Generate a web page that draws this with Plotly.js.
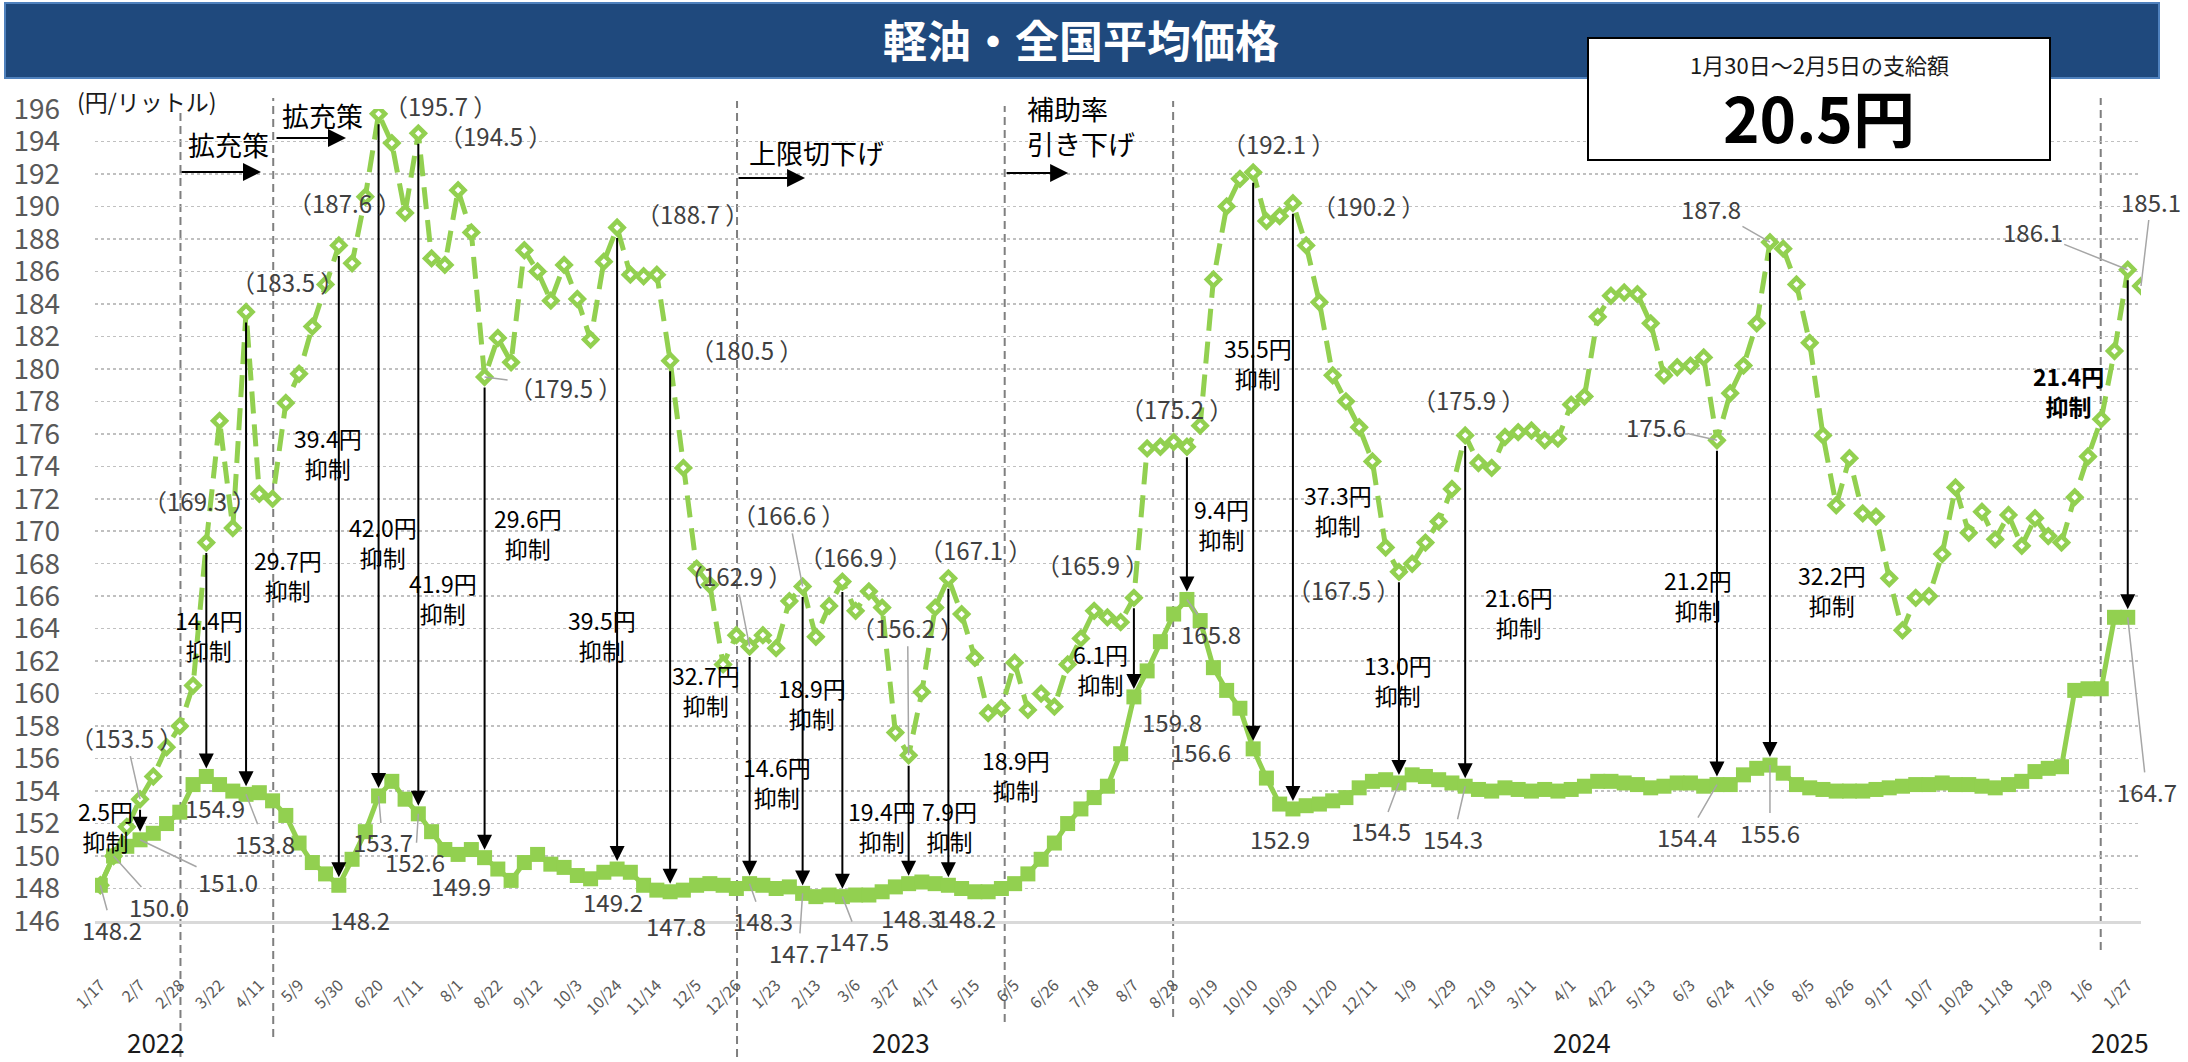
<!DOCTYPE html>
<html>
<head>
<meta charset="utf-8">
<script src="https://cdn.plot.ly/plotly-3.0.1.min.js"></script>
<style>
html, body { margin: 0; padding: 0; background: #fff; }
#chart { width: 2188px; height: 1062px; }
</style>
</head>
<body>
<div id="chart"></div>
<script>
// weekly survey points, x = survey number (0 = 2022/1/17)
var tickLabels = ['1/17','2/7','2/28','3/22','4/11','5/9','5/30','6/20','7/11','8/1','8/22','9/12',
  '10/3','10/24','11/14','12/5','12/26','1/23','2/13','3/6','3/27','4/17','5/15','6/5','6/26',
  '7/18','8/7','8/28','9/19','10/10','10/30','11/20','12/11','1/9','1/29','2/19','3/11','4/1',
  '4/22','5/13','6/3','6/24','7/16','8/5','8/26','9/17','10/7','10/28','11/18','12/9','1/6','1/27'];
var tickPos = tickLabels.map(function (t, k) { return k * 3; });

var years = ['2022', '2023', '2024', '2025'];
var yearPos = [4.2, 60.4, 111.8, 152.4];

// price without subsidy (diamonds)
var noSubsidy = [
  148.2, 150.0, 151.8, 153.5, 154.9, 156.7, 158.0, 160.5, 169.3, 176.8,
  170.2, 183.5, 172.3, 172.0, 177.9, 179.7, 182.6, 185.2, 187.6, 186.5,
  190.6, 195.7, 193.9, 189.6, 194.5, 186.8, 186.4, 191.0, 188.4, 179.5,
  181.9, 180.4, 187.3, 186.0, 184.2, 186.4, 184.3, 181.8, 186.6, 188.7,
  185.8, 185.7, 185.8, 180.5, 173.9, 167.7, 166.7, 161.8, 163.6, 162.9,
  163.6, 162.8, 165.7, 166.6, 163.5, 165.4, 166.9, 165.1, 166.3, 165.3,
  157.6, 156.2, 160.1, 165.3, 167.1, 164.9, 162.2, 158.8, 159.1, 161.9,
  159.0, 160.0, 159.2, 161.8, 163.4, 165.1, 164.7, 164.4, 165.9, 175.1,
  175.2, 175.5, 175.2, 176.5, 185.5, 190.0, 191.7, 192.1, 189.1, 189.4,
  190.2, 187.6, 184.1, 179.6, 178.0, 176.4, 174.3, 169.0, 167.5, 168.0,
  169.3, 170.6, 172.6, 175.9, 174.2, 173.9, 175.8, 176.1, 176.2, 175.6,
  175.7, 177.8, 178.3, 183.2, 184.5, 184.7, 184.6, 182.8, 179.6, 180.1,
  180.2, 180.7, 175.6, 178.5, 180.2, 182.8, 187.8, 187.4, 185.2, 181.6,
  175.9, 171.6, 174.5, 171.1, 170.9, 167.1, 163.9, 165.9, 166.0, 168.6,
  172.7, 169.9, 171.2, 169.5, 171.0, 169.1, 170.8, 169.7, 169.3, 172.1,
  174.6, 176.9, 181.1, 186.1, 185.1
];

// national average price (squares)
var actual = [
  148.2, 150.0, 150.6, 151.0, 151.4, 152.0, 152.7, 154.4, 154.9, 154.4,
  154.0, 153.8, 153.9, 153.4, 152.5, 150.8, 149.6, 148.9, 148.2, 149.8,
  151.5, 153.7, 154.6, 153.5, 152.6, 151.5, 150.4, 150.1, 150.4, 149.9,
  149.2, 148.5, 149.6, 150.1, 149.5, 149.3, 148.8, 148.6, 149.0, 149.2,
  149.0, 148.2, 147.9, 147.8, 147.9, 148.2, 148.3, 148.2, 148.0, 148.3,
  148.2, 148.0, 148.1, 147.7, 147.5, 147.6, 147.5, 147.6, 147.6, 147.8,
  148.1, 148.3, 148.4, 148.3, 148.2, 148.0, 147.8, 147.8, 148.0, 148.3,
  148.9, 149.8, 150.8, 152.0, 152.9, 153.6, 154.3, 156.3, 159.8, 161.4,
  163.2, 164.9, 165.8, 164.5, 161.6, 160.2, 159.1, 156.6, 154.8, 153.2,
  152.9, 153.1, 153.2, 153.4, 153.6, 154.2, 154.6, 154.7, 154.5, 155.0,
  154.9, 154.7, 154.5, 154.3, 154.1, 154.0, 154.2, 154.1, 154.0, 154.1,
  154.0, 154.1, 154.3, 154.6, 154.6, 154.5, 154.4, 154.2, 154.3, 154.5,
  154.5, 154.3, 154.4, 154.4, 155.0, 155.4, 155.6, 155.1, 154.4, 154.2,
  154.1, 154.0, 154.0, 154.0, 154.1, 154.2, 154.3, 154.4, 154.4, 154.5,
  154.4, 154.4, 154.3, 154.2, 154.4, 154.6, 155.2, 155.4, 155.5, 160.2,
  160.3, 160.3, 164.7, 164.7
];

// weeks where the subsidy effect is shown with an arrow
var cutIdx = [3, 8, 11, 18, 21, 24, 29, 39, 43, 49, 53, 56, 61, 64, 78, 82, 87, 90, 98, 103, 122, 126, 153];

var xTop = noSubsidy.map(function (v, i) { return i; });
var xAct = actual.map(function (v, i) { return i; });

var green = '#92d050';

var traces = [
  {
    x: xTop, y: noSubsidy, type: 'scatter', mode: 'lines+markers',
    line: { color: green, width: 5, dash: '22px,11px' },
    marker: { symbol: 'diamond', size: 10, color: '#ffffff', line: { color: green, width: 4.5 } },
    hoverinfo: 'skip'
  },
  {
    x: xAct, y: actual, type: 'scatter', mode: 'lines+markers',
    line: { color: green, width: 5 },
    marker: { symbol: 'square', size: 15, color: green },
    hoverinfo: 'skip'
  }
];

// pixel helpers for placing decorations
function xAt(px) { return (px - 100.3) / 13.25; }
function yAt(py) { return 146 + (921 - py) / 16.24; }
function pX(px) { return (px - 95) / 2046; }
function pY(py) { return (921 - py) / 812; }

var FONT = '"Noto Sans CJK JP", "Noto Sans", sans-serif';
var ann = [];
var shapes = [];

function paperText(px, py, text, size, color) {
  ann.push({ xref: 'paper', yref: 'paper', x: pX(px), y: pY(py), xanchor: 'center', yanchor: 'middle',
    text: text, showarrow: false, font: { family: FONT, size: size, color: color } });
}

// title bar and box
shapes.push({ type: 'rect', xref: 'paper', yref: 'paper', x0: pX(5), x1: pX(2159), y0: pY(78), y1: pY(3),
  fillcolor: '#1f497d', line: { color: '#4f81bd', width: 2 }, layer: 'above' });
shapes.push({ type: 'rect', xref: 'paper', yref: 'paper', x0: pX(1588), x1: pX(2050), y0: pY(160), y1: pY(38),
  fillcolor: '#ffffff', line: { color: '#000000', width: 2 }, layer: 'above' });

paperText(1081, 39, '<b>軽油・全国平均価格</b>', 44, '#ffffff');
paperText(1819, 64, '1月30日～2月5日の支給額', 22, '#1a1a1a');
paperText(1819, 116, '<b>20.5円</b>', 62, '#000000');
paperText(147, 101, '(円/リットル)', 23, '#1a1a1a');

// year labels
years.forEach(function (t, k) {
  ann.push({ xref: 'x', yref: 'paper', x: yearPos[k], y: pY(1041), xanchor: 'center', yanchor: 'middle',
    text: t, showarrow: false, font: { family: FONT, size: 26, color: '#1a1a1a' } });
});

// dashed event / year separators
var sepLines = [[6.05, 111, 1057], [13.05, 98, 1037], [48.05, 101, 1057], [68.25, 106, 1022], [80.96, 101, 1017], [150.96, 98, 950]];
sepLines.forEach(function (s) {
  shapes.push({ type: 'line', xref: 'x', yref: 'paper', x0: s[0], x1: s[0], y0: pY(s[2]), y1: pY(s[1]),
    line: { color: '#7f7f7f', width: 2, dash: '8px,5px' }, layer: 'below' });
});

// policy arrows and texts
var events = [
  { text: '拡充策', cx: 228, cy: 144, a: [180, 261, 172] },
  { text: '拡充策', cx: 322, cy: 115, a: [275, 346, 138] },
  { text: '上限切下げ', cx: 816, cy: 152, a: [737, 805, 178] },
  { text: '補助率<br>引き下げ', cx: 1025, cy: 126, a: [1005, 1068, 173], left: true }
];
events.forEach(function (e) {
  ann.push({ xref: 'x', yref: 'y', x: xAt(e.cx), y: yAt(e.cy), text: e.text, showarrow: false, align: 'left',
    xanchor: e.left ? 'left' : 'center', yanchor: 'middle', font: { family: FONT, size: 27, color: '#000' } });
  ann.push({ xref: 'x', yref: 'y', axref: 'x', ayref: 'y', x: xAt(e.a[1]), y: yAt(e.a[2]), ax: xAt(e.a[0]), ay: yAt(e.a[2]),
    text: '', showarrow: true, arrowhead: 2, arrowsize: 1.8, arrowwidth: 2, arrowcolor: '#000' });
});

// subsidy arrows
cutIdx.forEach(function (i) {
  ann.push({ xref: 'x', yref: 'y', axref: 'x', ayref: 'y', x: i, y: actual[i], ax: i, ay: noSubsidy[i],
    text: '', showarrow: true, arrowhead: 2, arrowsize: 1.5, arrowwidth: 2, arrowcolor: '#000',
    standoff: 8, startstandoff: 9 });
});

// "xx円 抑制" labels
var cutLabels = [
  ['2.5円', 105, 826], ['14.4円', 209, 635], ['29.7円', 288, 575], ['39.4円', 328, 453],
  ['42.0円', 383, 542], ['41.9円', 443, 598], ['29.6円', 528, 533], ['39.5円', 602, 635],
  ['32.7円', 706, 690], ['14.6円', 777, 782], ['18.9円', 812, 703], ['19.4円', 882, 826],
  ['7.9円', 949, 826], ['18.9円', 1016, 775], ['6.1円', 1100, 669], ['9.4円', 1221, 524],
  ['35.5円', 1258, 363], ['37.3円', 1338, 510], ['13.0円', 1398, 680], ['21.6円', 1519, 612],
  ['21.2円', 1698, 595], ['32.2円', 1832, 590], ['21.4円', 2068, 391, true]
];
cutLabels.forEach(function (c) {
  var t = c[0] + '<br>抑制';
  ann.push({ xref: 'x', yref: 'y', x: xAt(c[1]), y: yAt(c[2]), text: c[3] ? '<b>' + t + '</b>' : t,
    showarrow: false, font: { family: FONT, size: 23, color: '#000' } });
});

// value labels: [index, dx, dy, leader, paren]
var topLabels = [
  [3, -14, -62, true, true], [8, -7, -42, false, true], [11, 41, -31, false, true],
  [18, 6, -43, false, true], [21, 62, -8, false, true], [24, 77, 2, false, true],
  [29, 81, 11, true, true], [39, 75, -14, false, true], [43, 76, -11, false, true],
  [49, -14, -71, true, true], [53, -14, -72, true, true], [56, 13, -25, false, true],
  [61, -1, -128, true, true], [64, 27, -29, false, true], [78, -41, -33, false, true],
  [82, -10, -38, false, true], [87, 25, -29, false, true], [90, 76, 2, false, true],
  [98, -55, 18, false, true], [103, 3, -36, false, true], [122, -61, -14, true, false],
  [126, -59, -34, true, false], [153, -95, -38, true, false], [154, 10, -85, true, false]
];
var botLabels = [
  [0, 12, 44, true], [1, 45, 50, true], [3, 88, 42, true], [8, 9, 31, false],
  [11, 19, 49, true], [18, 21, 34, false], [21, 4, 46, true], [24, -3, 48, true],
  [29, -24, 28, false], [39, -4, 32, false], [43, 6, 34, false], [49, 13, 37, true],
  [53, -4, 59, true], [56, 17, 44, true], [61, 2, 34, false], [64, 18, 32, false],
  [78, 38, 25, false], [82, 24, 34, true], [87, -52, 3, false], [90, -13, 30, false],
  [98, -18, 48, true], [103, -12, 52, true], [122, -30, 52, true], [126, 0, 67, true],
  [153, 19, 174, true]
];

function valueLabel(i, v, dx, dy, leader, txt) {
  var a = { xref: 'x', yref: 'y', x: i, y: v, text: txt, font: { family: FONT, size: 24, color: '#404040' } };
  if (leader) {
    a.showarrow = true; a.ax = dx; a.ay = dy; a.arrowhead = 0; a.arrowwidth = 1.5; a.arrowcolor = '#a6a6a6';
  } else {
    a.showarrow = false; a.xshift = dx; a.yshift = -dy;
  }
  ann.push(a);
}
topLabels.forEach(function (l) {
  var v = noSubsidy[l[0]];
  valueLabel(l[0], v, l[1], l[2], l[3], l[4] ? '（' + v.toFixed(1) + ' ）' : v.toFixed(1));
});
botLabels.forEach(function (l) {
  var v = actual[l[0]];
  valueLabel(l[0], v, l[1], l[2], l[3], v.toFixed(1));
});

var layout = {
  width: 2188, height: 1062,
  margin: { l: 95, r: 47, t: 109, b: 141 },
  paper_bgcolor: '#ffffff', plot_bgcolor: '#ffffff',
  showlegend: false,
  font: { family: FONT, color: '#404040' },
  xaxis: {
    range: [-0.4, 154.0], tickmode: 'array', tickvals: tickPos, ticktext: tickLabels,
    tickangle: -45, tickfont: { family: FONT, size: 16, color: '#595959' },
    showgrid: false, zeroline: false, showline: true, linecolor: '#d9d9d9', linewidth: 2.5,
    ticks: '', ticklabelstandoff: 46, fixedrange: true
  },
  yaxis: {
    range: [146, 196], tick0: 146, dtick: 2,
    tickfont: { family: FONT, size: 28, color: '#595959' },
    gridcolor: '#c0c0c0', griddash: 'dot', gridwidth: 1.5,
    zeroline: false, showline: false, ticks: '', ticklabelstandoff: 34, fixedrange: true
  },
  shapes: shapes,
  annotations: ann
};

Plotly.newPlot('chart', traces, layout, { displayModeBar: false, staticPlot: true });
</script>
</body>
</html>
